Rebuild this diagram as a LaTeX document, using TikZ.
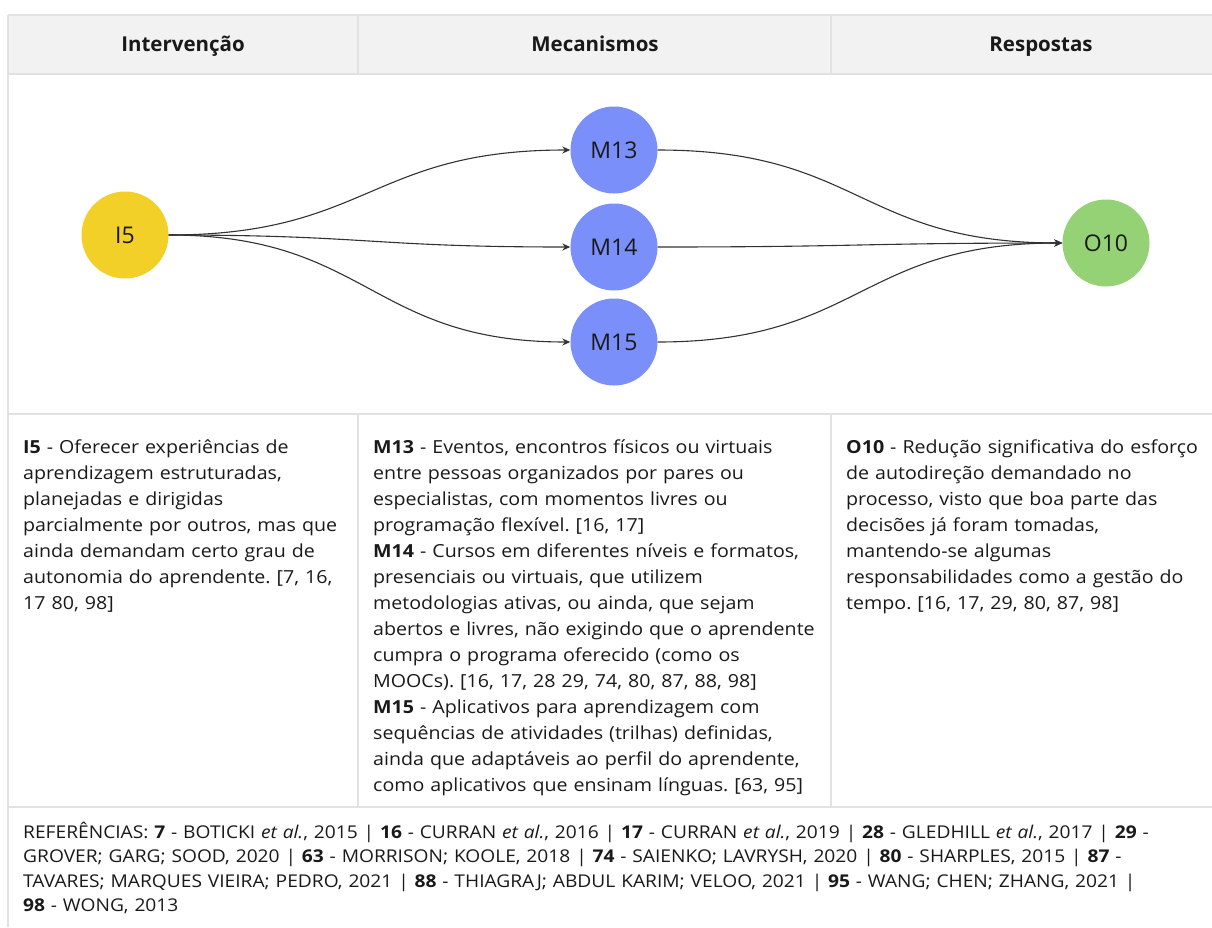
\documentclass[tikz,border=0pt]{standalone}
\usepackage{fontspec}
\setmainfont{Open Sans}[FakeStretch=1.09]
\newfontfamily\plainsans{Open Sans}
\usepackage{xcolor}
\usepackage{tikz}
\usetikzlibrary{arrows.meta, positioning}
\frenchspacing
\definecolor{headgray}{RGB}{242,242,242}
\definecolor{rulegray}{RGB}{226,226,226}
\definecolor{introyellow}{RGB}{242,208,40}
\definecolor{mechblue}{RGB}{123,143,250}
\definecolor{outgreen}{RGB}{148,210,117}
\definecolor{linkgray}{RGB}{50,50,50}
\definecolor{bodytext}{RGB}{25,25,25}
\tikzset{
    headnode/.style = {draw=none, fill=none, rectangle, inner sep = 0em, anchor=base,
      text=bodytext, font=\plainsans\fontsize{20.5}{24}\selectfont\bfseries},
    circlenode/.style = {circle, draw=none, inner sep = 0em, node distance=0em,
      minimum size=87pt, text=bodytext, font=\plainsans\fontsize{23}{26}\selectfont},
    textnode/.style  = {draw=none, fill=none, rectangle, inner sep = 0em, anchor=base west,
      align=left, text=bodytext, font=\fontsize{18}{26}\selectfont},
    reftextnode/.style = {textnode, font=\fontsize{17.6}{24.5}\selectfont},
    gridline/.style = {rulegray, line width=2pt},
    connect/.style = {linkgray, line width=1.1pt, -{Stealth[length=8pt, width=7pt]}}
}
\begin{document}
\begin{tikzpicture}[x=1pt, y=-1pt]
    \useasboundingbox (0,0) rectangle (1212,927);
    \clip (0,0) rectangle (1212,927);

    \fill [headgray] (8,15) rectangle (1260,74);
    \draw [gridline] (8,15) -- (1260,15);
    \draw [gridline] (8,74) -- (1260,74);
    \draw [gridline] (8,414) -- (1260,414);
    \draw [gridline] (8,807) -- (1260,807);
    \draw [gridline] (8,15) -- (8,927);
    \draw [gridline] (358,15) -- (358,74);
    \draw [gridline] (831,15) -- (831,74);
    \draw [gridline] (358,414) -- (358,807);
    \draw [gridline] (831,414) -- (831,807);

    \node [headnode, name=HeadI] at (183,51) {Intervenção};
    \node [headnode, name=HeadM] at (595,51) {Mecanismos};
    \node [headnode, name=HeadO] at (1041,51) {Respostas};

    \node [circlenode, name=I5, fill=introyellow] at (125,235) {I5};
    \node [circlenode, name=M14, fill=mechblue, right of=I5, xshift=489pt, yshift=-12pt] {M14};
    \node [circlenode, name=M13, fill=mechblue, above of=M14, yshift=97pt] {M13};
    \node [circlenode, name=M15, fill=mechblue, below of=M14, yshift=-95pt] {M15};
    \node [circlenode, name=O10, fill=outgreen, right of=M14, xshift=492pt, yshift=4pt] {O10};

    \draw [connect] (I5.east) .. controls +(200,0) and +(-200,0) .. (M13.west);
    \draw [connect] (I5.east) .. controls +(200,0) and +(-200,0) .. (M14.west);
    \draw [connect] (I5.east) .. controls +(200,0) and +(-200,0) .. (M15.west);
    \draw [connect] (M13.east) .. controls +(203,0) and +(-203,0) .. (O10.west);
    \draw [connect] (M14.east) .. controls +(203,0) and +(-203,0) .. (O10.west);
    \draw [connect] (M15.east) .. controls +(203,0) and +(-203,0) .. (O10.west);

    \node [textnode, name=TextI, text width=330pt] at (23,453) {\textbf{I5} - Oferecer experiências de\\
      aprendizagem estruturadas,\\
      planejadas e dirigidas\\
      parcialmente por outros, mas que\\
      ainda demandam certo grau de\\
      autonomia do aprendente. [7, 16,\\
      17 80, 98]};
    \node [textnode, name=TextM, text width=455pt] at (373,453) {\textbf{M13} - Eventos, encontros físicos ou virtuais\\
      entre pessoas organizados por pares ou\\
      especialistas, com momentos livres ou\\
      programação flexível. [16, 17]\\
      \textbf{M14} - Cursos em diferentes níveis e formatos,\\
      presenciais ou virtuais, que utilizem\\
      metodologias ativas, ou ainda, que sejam\\
      abertos e livres, não exigindo que o aprendente\\
      cumpra o programa oferecido (como os\\
      MOOCs). [16, 17, 28 29, 74, 80, 87, 88, 98]\\
      \textbf{M15} - Aplicativos para aprendizagem com\\
      sequências de atividades (trilhas) definidas,\\
      ainda que adaptáveis ao perfil do aprendente,\\
      como aplicativos que ensinam línguas. [63, 95]};
    \node [textnode, name=TextO, text width=380pt] at (846,453) {\textbf{O10} - Redução significativa do esforço\\
      de autodireção demandado no\\
      processo, visto que boa parte das\\
      decisões já foram tomadas,\\
      mantendo-se algumas\\
      responsabilidades como a gestão do\\
      tempo. [16, 17, 29, 80, 87, 98]};

    \node [reftextnode, name=Refs, text width=1220pt] at (23,838) {REFERÊNCIAS: \textbf{7} - BOTICKI \textit{et al.}, 2015 | \textbf{16} - CURRAN \textit{et al.}, 2016 | \textbf{17} - CURRAN \textit{et al.}, 2019 | \textbf{28} - GLEDHILL \textit{et al.}, 2017 | \textbf{29} -\\
      GROVER; GARG; SOOD, 2020 | \textbf{63} - MORRISON; KOOLE, 2018 | \textbf{74} - SAIENKO; LAVRYSH, 2020 | \textbf{80} - SHARPLES, 2015 | \textbf{87} -\\
      TAVARES; MARQUES VIEIRA; PEDRO, 2021 | \textbf{88} - THIAGRAJ; ABDUL KARIM; VELOO, 2021 | \textbf{95} - WANG; CHEN; ZHANG, 2021 |\\
      \textbf{98} - WONG, 2013};
\end{tikzpicture}
\end{document}
